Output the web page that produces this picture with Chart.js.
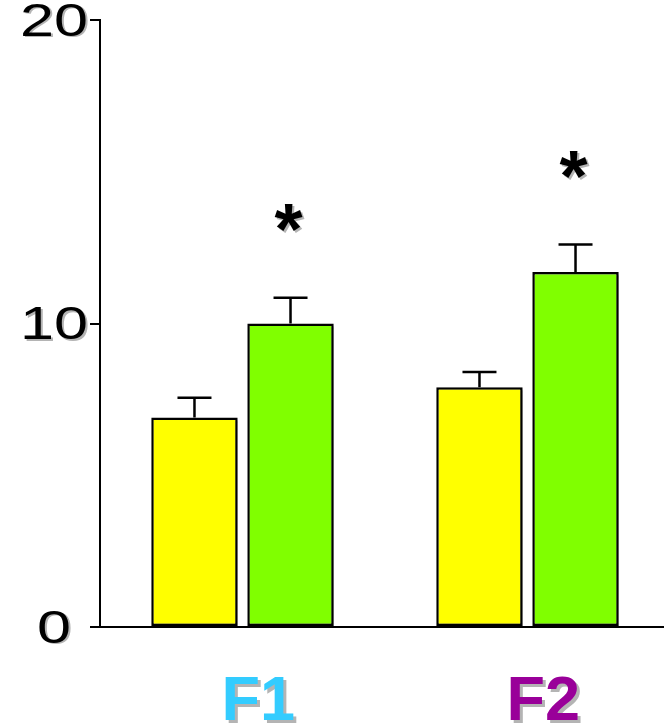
<!DOCTYPE html>
<html>
<head>
<meta charset="utf-8">
<script src="https://cdn.jsdelivr.net/npm/chart.js@4.4.1/dist/chart.umd.min.js"></script>
<style>
  html, body { margin: 0; padding: 0; background: #fff; overflow: hidden; }
  #wrap { width: 670px; height: 725px; }
</style>
</head>
<body>
<div id="wrap"><canvas id="chart"></canvas></div>
<script>
const categories = ["F1", "F2"];
const categoryColors = ["#33ccff", "#990099"];
const controlValues = [6.9, 7.9];
const controlErrors = [0.65, 0.5];
const treatedValues = [10.0, 11.7];
const treatedErrors = [0.85, 0.9];
const treatedMarks = ["*", "*"];
const yTicks = [0, 10, 20];

const errors = [controlErrors, treatedErrors];
const marks = [null, treatedMarks];

function shadowText(ctx, text, x, y, color, off) {
  ctx.fillStyle = "#b4b4b4";
  ctx.fillText(text, x + off, y + off);
  ctx.fillStyle = color;
  ctx.fillText(text, x, y);
}

const extras = {
  id: "extras",
  beforeDatasetsDraw(chart) {
    const ctx = chart.ctx;
    ctx.save();
    ctx.shadowColor = "rgba(0,0,0,0.3)";
    ctx.shadowOffsetX = 3;
    ctx.shadowOffsetY = 3;
    ctx.shadowBlur = 2;
  },
  afterDatasetsDraw(chart) {
    const ctx = chart.ctx;
    ctx.restore();
    const y = chart.scales.y;

    // error bars (upper half only)
    chart.data.datasets.forEach((ds, i) => {
      const meta = chart.getDatasetMeta(i);
      meta.data.forEach((bar, j) => {
        const top = y.getPixelForValue(ds.data[j] + errors[i][j]);
        ctx.save();
        ctx.strokeStyle = "#000";
        ctx.lineWidth = 2.5;
        ctx.beginPath();
        ctx.moveTo(bar.x, bar.y);
        ctx.lineTo(bar.x, top);
        ctx.moveTo(bar.x - 17, top);
        ctx.lineTo(bar.x + 17, top);
        ctx.stroke();
        ctx.restore();

        // significance star
        if (marks[i] && marks[i][j]) {
          ctx.save();
          ctx.font = "bold 72px 'Liberation Sans', Arial, sans-serif";
          ctx.textAlign = "center";
          ctx.textBaseline = "alphabetic";
          const m = ctx.measureText(marks[i][j]);
          const cy = top - 80;
          const by = cy + (m.actualBoundingBoxAscent - m.actualBoundingBoxDescent) / 2;
          shadowText(ctx, marks[i][j], bar.x - 2, by, "#000", 2);
          ctx.restore();
        }
      });
    });
  },
  afterDraw(chart) {
    const ctx = chart.ctx;
    const x = chart.scales.x;
    const y = chart.scales.y;

    // y tick labels, drawn wide
    ctx.save();
    ctx.font = "47px 'Liberation Sans', Arial, sans-serif";
    ctx.textAlign = "center";
    ctx.textBaseline = "middle";
    yTicks.forEach(v => {
      const py = y.getPixelForValue(v) + 3;
      ctx.save();
      ctx.translate(54, py);
      ctx.scale(1.3, 1);
      shadowText(ctx, String(v), 0, 0, "#000", 1.5);
      ctx.restore();
    });
    ctx.restore();

    // category labels
    ctx.save();
    ctx.font = "bold 63px 'Liberation Sans', Arial, sans-serif";
    ctx.textAlign = "left";
    ctx.textBaseline = "alphabetic";
    categories.forEach((c, i) => {
      const px = x.getPixelForValue(i);
      shadowText(ctx, c, px - 21, 720, categoryColors[i], 3);
    });
    ctx.restore();
  }
};

new Chart(document.querySelector("#chart"), {
  type: "bar",
  data: {
    labels: categories,
    datasets: [
      {
        data: controlValues,
        backgroundColor: "#ffff00",
        borderColor: "#000",
        borderWidth: 2.5,
        borderSkipped: false,
      },
      {
        data: treatedValues,
        backgroundColor: "#80ff00",
        borderColor: "#000",
        borderWidth: 2.5,
        borderSkipped: false,
      },
    ],
  },
  options: {
    responsive: true,
    maintainAspectRatio: false,
    animation: false,
    layout: { padding: { top: 20, right: 0, bottom: 0, left: 0 } },
    plugins: { legend: { display: false }, tooltip: { enabled: false } },
    datasets: { bar: { categoryPercentage: 0.674, barPercentage: 0.9 } },
    scales: {
      x: {
        offset: true,
        grid: { display: false },
        border: { color: "#000", width: 2 },
        ticks: { display: false },
        afterFit: s => { s.height = 98; },
      },
      y: {
        min: 0,
        max: 20,
        ticks: { display: false, stepSize: 10 },
        grid: { drawOnChartArea: false, drawTicks: true, tickLength: 10, color: "#000", lineWidth: 2 },
        border: { color: "#000", width: 2 },
        afterFit: s => { s.width = 100; },
      },
    },
  },
  plugins: [extras],
});
</script>
</body>
</html>
